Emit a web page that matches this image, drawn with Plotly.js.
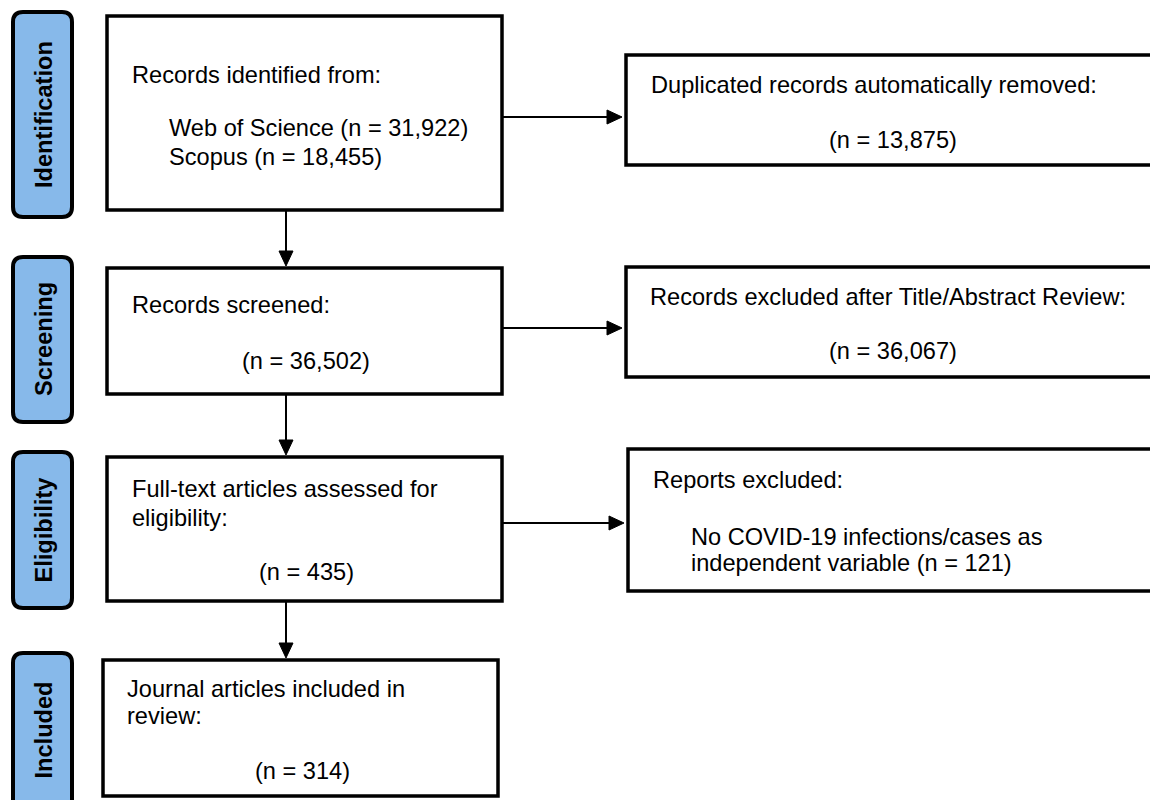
<!DOCTYPE html>
<html>
<head>
<meta charset="utf-8">
<script src="https://cdn.plot.ly/plotly-3.0.1.min.js"></script>
<style>html,body{margin:0;padding:0;background:#fff;}#chart{width:1150px;height:800px;}</style>
</head>
<body>
<div id="chart"></div>
<script>
// ---- data ----
const stages = ['Identification', 'Screening', 'Eligibility', 'Included'];
const mainHeadings = [
  ['Records identified from:'],
  ['Records screened:'],
  ['Full-text articles assessed for', 'eligibility:'],
  ['Journal articles included in', 'review:']
];
const sources = ['Web of Science', 'Scopus'];
const sourceCounts = ['31,922', '18,455'];
const mainCounts = [null, '36,502', '435', '314'];
const sideHeadings = [
  'Duplicated records automatically removed:',
  'Records excluded after Title/Abstract Review:',
  'Reports excluded:'
];
const sideReasons = [null, null, ['No COVID-19 infections/cases as', 'independent variable']];
const sideCounts = ['13,875', '36,067', '121'];

// ---- layout geometry (pixels) ----
const stageBoxes = [[13, 72, 12, 217], [13, 72, 257, 422], [13, 72, 452, 608], [13, 72, 653, 830]];
const mainBoxes = [[107, 502, 16, 210], [107, 502, 268, 394], [107, 502, 457, 601], [103, 498, 660, 796]];
const sideBoxes = [[626, 1160, 55, 165], [626, 1160, 267, 377], [628, 1160, 449, 591]];
const black = '#000000';
const blue = '#87B9EA';
const FONT = 'Liberation Sans, Arial, sans-serif';
const FS = 23.6;

const shapes = [];
const annotations = [];

function roundRect(x0, x1, y0, y1, r) {
  return `M ${x0 + r} ${y0} L ${x1 - r} ${y0} Q ${x1} ${y0} ${x1} ${y0 + r} L ${x1} ${y1 - r} Q ${x1} ${y1} ${x1 - r} ${y1} ` +
         `L ${x0 + r} ${y1} Q ${x0} ${y1} ${x0} ${y1 - r} L ${x0} ${y0 + r} Q ${x0} ${y0} ${x0 + r} ${y0} Z`;
}
function txt(x, y, text, opts) {
  annotations.push(Object.assign({
    x: x, y: y, xref: 'x', yref: 'y', text: text, showarrow: false, borderpad: 0,
    xanchor: 'left', yanchor: 'middle', font: {family: FONT, size: FS, color: black}
  }, opts || {}));
}
function rect(b, w) {
  shapes.push({type: 'rect', xref: 'x', yref: 'y', x0: b[0], x1: b[1], y0: b[2], y1: b[3],
    line: {color: black, width: w}, fillcolor: 'rgba(0,0,0,0)'});
}
function arrowDown(x, y0, y1) {
  shapes.push({type: 'line', xref: 'x', yref: 'y', x0: x, x1: x, y0: y0, y1: y1 - 12, line: {color: black, width: 2}});
  shapes.push({type: 'path', xref: 'x', yref: 'y', path: `M ${x - 7} ${y1 - 15} L ${x + 7} ${y1 - 15} L ${x} ${y1} Z`,
    fillcolor: black, line: {color: black, width: 1}});
}
function arrowRight(y, x0, x1) {
  shapes.push({type: 'line', xref: 'x', yref: 'y', x0: x0, x1: x1 - 12, y0: y, y1: y, line: {color: black, width: 2}});
  shapes.push({type: 'path', xref: 'x', yref: 'y', path: `M ${x1 - 15} ${y - 7} L ${x1 - 15} ${y + 7} L ${x1} ${y} Z`,
    fillcolor: black, line: {color: black, width: 1}});
}

// stage labels
stages.forEach((s, i) => {
  const b = stageBoxes[i];
  shapes.push({type: 'path', xref: 'x', yref: 'y', path: roundRect(b[0], b[1], b[2], b[3], 10),
    fillcolor: blue, line: {color: black, width: 4}});
  const yc = i === 3 ? 730 : (b[2] + b[3]) / 2;
  txt((b[0] + b[1]) / 2 + 1, yc, '<b>' + s + '</b>', {xanchor: 'center', textangle: -90});
});

// main boxes
mainBoxes.forEach(b => rect(b, 3.5));
sideBoxes.forEach(b => rect(b, 3.5));

// Box 1 text
txt(131, 75, mainHeadings[0][0]);
sources.forEach((s, i) => txt(168, 128 + i * 29, `${s} (n = ${sourceCounts[i]})`));
// Box 2
txt(131, 305, mainHeadings[1][0]);
txt(306, 361, `(n = ${mainCounts[1]})`, {xanchor: 'center'});
// Box 3
txt(131, 489, mainHeadings[2][0]);
txt(131, 518, mainHeadings[2][1]);
txt(306, 572, `(n = ${mainCounts[2]})`, {xanchor: 'center'});
// Box 4
txt(126, 689, mainHeadings[3][0]);
txt(126, 716, mainHeadings[3][1]);
txt(302, 771, `(n = ${mainCounts[3]})`, {xanchor: 'center'});

// side boxes
txt(650, 85, sideHeadings[0]);
txt(893, 140, `(n = ${sideCounts[0]})`, {xanchor: 'center'});
txt(649, 297, sideHeadings[1]);
txt(893, 351, `(n = ${sideCounts[1]})`, {xanchor: 'center'});
txt(652, 480, sideHeadings[2]);
txt(690, 537, sideReasons[2][0]);
txt(690, 563, `${sideReasons[2][1]} (n = ${sideCounts[2]})`);

// arrows
arrowDown(286, 210, 266);
arrowDown(286, 394, 455);
arrowDown(286, 601, 658);
arrowRight(117, 502, 622);
arrowRight(328, 502, 622);
arrowRight(523, 502, 624);

const layout = {
  width: 1150, height: 800,
  margin: {l: 0, r: 0, t: 0, b: 0},
  paper_bgcolor: '#ffffff', plot_bgcolor: '#ffffff',
  xaxis: {range: [0, 1150], visible: false, fixedrange: true},
  yaxis: {range: [800, 0], visible: false, fixedrange: true},
  shapes: shapes, annotations: annotations, showlegend: false
};
Plotly.newPlot('chart', [], layout, {displayModeBar: false, staticPlot: true});
</script>
</body>
</html>
